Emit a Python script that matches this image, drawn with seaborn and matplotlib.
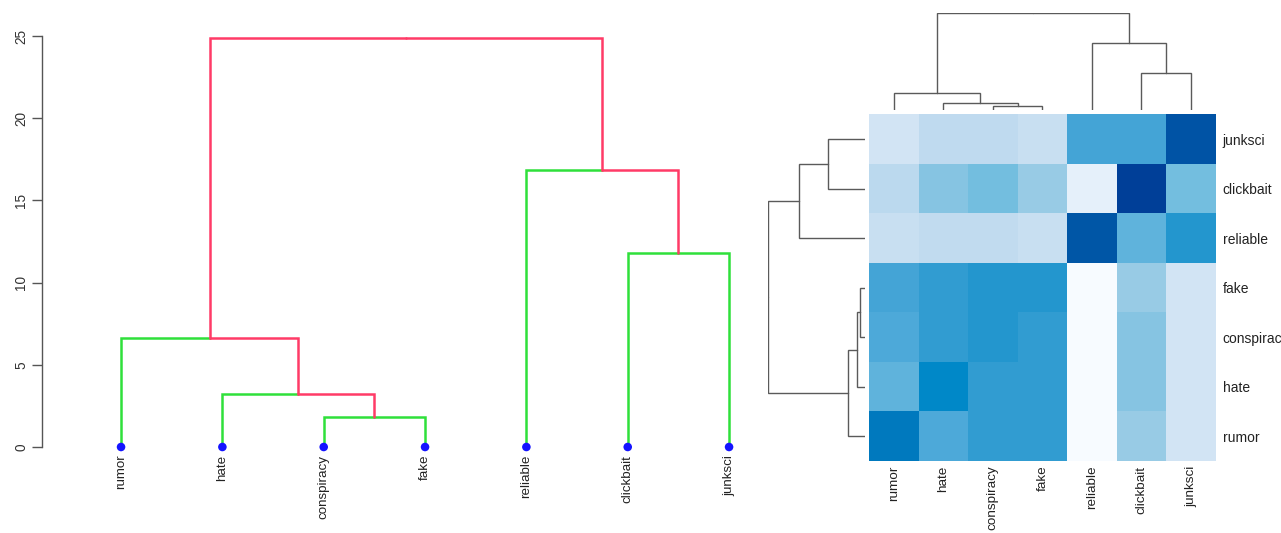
import matplotlib
matplotlib.use("Agg")
import numpy as np
import pandas as pd
import matplotlib.pyplot as plt
import seaborn as sns
from matplotlib.colors import LinearSegmentedColormap

# Leaf order shared by both dendrograms and the heatmap columns
labels = ["rumor", "hate", "conspiracy", "fake", "reliable", "clickbait", "junksci"]

# Hierarchical merges: (child a, child b, height); leaves are 0..6, new nodes 7..12
tree_merges = [(2, 3), (1, 7), (0, 8), (5, 6), (4, 10), (9, 11)]
tree_heights = [1.82, 3.24, 6.65, 11.82, 16.85, 24.9]

# Relative merge heights of the heatmap's column and row dendrograms
col_heights = [0.045, 0.076, 0.173, 0.38, 0.69, 1.0]
row_heights = [0.052, 0.086, 0.178, 0.38, 0.68, 1.0]

# Heatmap rows, top to bottom
heat_rows = ["junksci", "clickbait", "reliable", "fake", "conspiracy", "hate", "rumor"]
heat_junksci    = [0.20, 0.30, 0.30, 0.25, 0.62, 0.62, 0.92]
heat_clickbait  = [0.31, 0.45, 0.50, 0.40, 0.10, 1.00, 0.50]
heat_reliable   = [0.25, 0.29, 0.29, 0.25, 0.91, 0.55, 0.72]
heat_fake       = [0.62, 0.68, 0.72, 0.72, 0.00, 0.40, 0.20]
heat_conspiracy = [0.59, 0.68, 0.72, 0.68, 0.00, 0.45, 0.20]
heat_hate       = [0.55, 0.80, 0.68, 0.68, 0.00, 0.45, 0.20]
heat_rumor      = [0.83, 0.59, 0.68, 0.68, 0.00, 0.40, 0.20]

y_ticks = [0, 5, 10, 15, 20, 25]

RED = "#FF3B67"
GREEN = "#2FE03A"
DOT = "#1414FF"
GREY = "#5a5a5a"

blues = LinearSegmentedColormap.from_list(
    "blues_ramp",
    [(0.0, "#F7FBFF"), (0.2, "#D2E4F4"), (0.3, "#BFDAEF"), (0.4, "#98CBE5"),
     (0.5, "#74BEDF"), (0.6, "#4AA7D8"), (0.7, "#2C9AD0"), (0.8, "#0088C8"),
     (0.9, "#0058A8"), (1.0, "#003F98")])


def dendro_edges(n_leaves, merges, heights, leaf_pos):
    """Return every parent->child edge as (xs, ys, child_is_leaf)."""
    pos = {i: leaf_pos[i] for i in range(n_leaves)}
    hgt = {i: 0.0 for i in range(n_leaves)}
    edges = []
    for k, ((a, b), h) in enumerate(zip(merges, heights)):
        node = n_leaves + k
        pos[node] = (pos[a] + pos[b]) / 2.0
        hgt[node] = h
        for c in (a, b):
            edges.append(([pos[node], pos[c], pos[c]], [h, h, hgt[c]], c < n_leaves))
    return edges


sns.set_theme(style="white")
plt.rcParams["font.family"] = ["Liberation Sans", "DejaVu Sans"]

W, H = 1281, 533
fig = plt.figure(figsize=(W / 100, H / 100), dpi=100)


def px_axes(x0, y0, x1, y1):
    return fig.add_axes([x0 / W, 1 - y1 / H, (x1 - x0) / W, (y1 - y0) / H])


# ---------- left: coloured dendrogram ----------
ax = px_axes(42, 36, 800, 447)
n = len(labels)
leaf_x = np.arange(1, n + 1)
for xs, ys, is_leaf in dendro_edges(n, tree_merges, tree_heights, leaf_x):
    ax.plot(xs, ys, color=GREEN if is_leaf else RED, lw=1.8,
            solid_joinstyle="miter", clip_on=False)
sns.scatterplot(x=leaf_x, y=np.zeros(n), ax=ax, color=DOT, s=38,
                edgecolor="none", zorder=5, clip_on=False)
ax.set_xlim(0.22, 7.70)
ax.set_ylim(0, 25)
ax.set_yticks(y_ticks)
ax.set_yticklabels([str(t) for t in y_ticks], rotation=90, va="center",
                   fontsize=9.8, color="#333333")
ax.tick_params(axis="y", length=7, width=1, color="#555555", pad=3, left=True)
ax.set_xticks(leaf_x)
ax.set_xticklabels(labels, rotation=90, va="top", ha="center",
                   fontsize=9.6, color="#222222")
ax.tick_params(axis="x", length=0, pad=5.5)
for s in ("top", "right", "bottom"):
    ax.spines[s].set_visible(False)
ax.spines["left"].set_color("#555555")
ax.spines["left"].set_linewidth(1)
ax.spines["left"].set_bounds(0, 25)
ax.set_facecolor("none")

# ---------- right: heatmap with dendrograms ----------
hm = pd.DataFrame([heat_junksci, heat_clickbait, heat_reliable, heat_fake,
                   heat_conspiracy, heat_hate, heat_rumor],
                  index=heat_rows, columns=labels)
axh = px_axes(869, 114.3, 1215.7, 461)
sns.heatmap(hm, ax=axh, cmap=blues, vmin=0, vmax=1, cbar=False,
            linewidths=0, square=False)
axh.yaxis.tick_right()
axh.set_yticklabels(heat_rows, rotation=0, fontsize=10, color="#222222")
axh.set_xticklabels(labels, rotation=90, fontsize=9.7, color="#222222")
axh.tick_params(axis="both", length=0)
axh.tick_params(axis="y", pad=5)
axh.tick_params(axis="x", pad=3.5)
axh.set_xlabel("")
axh.set_ylabel("")

# column dendrogram on top
axc = px_axes(869, 13.3, 1215.7, 110)
for xs, ys, _ in dendro_edges(n, tree_merges, col_heights, np.arange(n) + 0.5):
    axc.plot(xs, ys, color=GREY, lw=1.0, solid_joinstyle="miter")
axc.set_xlim(0, n)
axc.set_ylim(0, max(col_heights))
axc.axis("off")

# row dendrogram on the left (rumor at the bottom row)
axr = px_axes(768, 114.3, 865, 461)
for xs, ys, _ in dendro_edges(n, tree_merges, row_heights, n - 0.5 - np.arange(n)):
    axr.plot(ys, xs, color=GREY, lw=1.0, solid_joinstyle="miter")
axr.set_ylim(n, 0)
axr.set_xlim(max(row_heights), 0)
axr.axis("off")

fig.savefig("out.png", dpi=100, facecolor="white")
